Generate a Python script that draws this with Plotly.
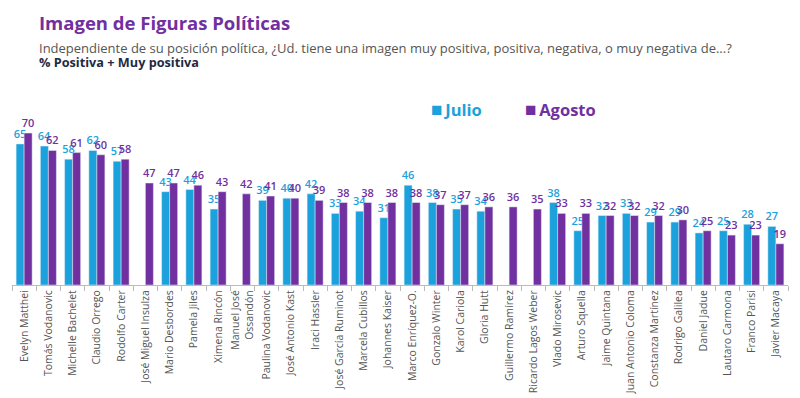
import plotly.graph_objects as go

categories = [
    "Evelyn Matthei", "Tomás Vodanovic", "Michelle Bachelet", "Claudio Orrego",
    "Rodolfo Carter", "José Miguel Insulza", "Mario Desbordes", "Pamela Jiles",
    "Ximena Rincón", "Manuel José<br>Ossandón", "Paulina Vodanovic", "José Antonio Kast",
    "Iraci Hassler", "José García Ruminot", "Marcela Cubillos", "Johannes Kaiser",
    "Marco Enríquez-O.", "Gonzalo Winter", "Karol Cariola", "Gloria Hutt",
    "Guillermo Ramírez", "Ricardo Lagos Weber", "Vlado Mirosevic", "Arturo Squella",
    "Jaime Quintana", "Juan Antonio Coloma", "Constanza Martínez", "Rodrigo Galilea",
    "Daniel Jadue", "Lautaro Carmona", "Franco Parisi", "Javier Macaya",
]
julio = [65, 64, 58, 62, 57, None, 43, 44, 35, None, 39, 40, 42, 33, 34, 31,
         46, 38, 35, 34, None, None, 38, 25, 32, 33, 29, 29, 24, 25, 28, 27]
agosto = [70, 62, 61, 60, 58, 47, 47, 46, 43, 42, 41, 40, 39, 38, 38, 38,
          38, 37, 37, 36, 36, 35, 33, 33, 32, 32, 32, 30, 25, 23, 23, 19]
series_names = ["Julio", "Agosto"]

C_JUL = "#1ba1db"
C_AGO = "#7030a0"
FONT = "Open Sans"

fig = go.Figure()
fig.add_trace(go.Bar(
    x=categories, y=julio, name=series_names[0], marker_color=C_JUL,
    text=[("" if v is None else str(v)) for v in julio],
    textposition="outside", cliponaxis=False, constraintext="none",
    textfont=dict(family=FONT, size=11, color=C_JUL, weight=600),
))
fig.add_trace(go.Bar(
    x=categories, y=agosto, name=series_names[1], marker_color=C_AGO,
    text=[str(v) for v in agosto],
    textposition="outside", cliponaxis=False, constraintext="none",
    textfont=dict(family=FONT, size=11, color=C_AGO, weight=600),
))

fig.update_layout(
    width=800, height=398,
    margin=dict(l=12, r=12, t=100, b=113),
    paper_bgcolor="white", plot_bgcolor="white",
    barmode="group", bargap=0.34, bargroupgap=0,
    font=dict(family=FONT),
    showlegend=False,
    xaxis=dict(
        tickangle=-90, tickfont=dict(family=FONT, size=10.5, color="#555555"),
        showline=True, linecolor="#bbbbbb", linewidth=1,
        ticks="outside", tickson="boundaries", ticklen=5, tickcolor="#bbbbbb",
        showgrid=False, automargin=False,
    ),
    yaxis=dict(range=[0, 85.25], visible=False, showgrid=False),
)

# legend drawn as annotations
for name, col, xpos in [(series_names[0], C_JUL, 0.537), (series_names[1], C_AGO, 0.659)]:
    fig.add_annotation(text="<span style='font-size:19px'>■</span>&#8201;" + name,
                       xref="paper", yref="paper", x=xpos, y=0.951,
                       xanchor="left", yanchor="middle", showarrow=False,
                       font=dict(family=FONT, size=16.5, color=col, weight=700))

fig.add_annotation(text="Imagen de Figuras Políticas", xref="paper", yref="paper",
                   x=0.032, y=1.42, xanchor="left", yanchor="middle", showarrow=False,
                   font=dict(family=FONT, size=18.5, color=C_AGO, weight=700))
fig.add_annotation(text="Independiente de su posición política, ¿Ud. tiene una imagen muy positiva, positiva, negativa, o muy negativa de...?",
                   xref="paper", yref="paper",
                   x=0.032, y=1.281, xanchor="left", yanchor="middle", showarrow=False,
                   font=dict(family=FONT, size=13, color="#555555"))
fig.add_annotation(text="% Positiva + Muy positiva", xref="paper", yref="paper",
                   x=0.032, y=1.205, xanchor="left", yanchor="middle", showarrow=False,
                   font=dict(family=FONT, size=12.7, color="#1f2a44", weight=700))

fig.write_html("out.html", config={"displayModeBar": False},
               post_script="document.body.style.margin='0';")
